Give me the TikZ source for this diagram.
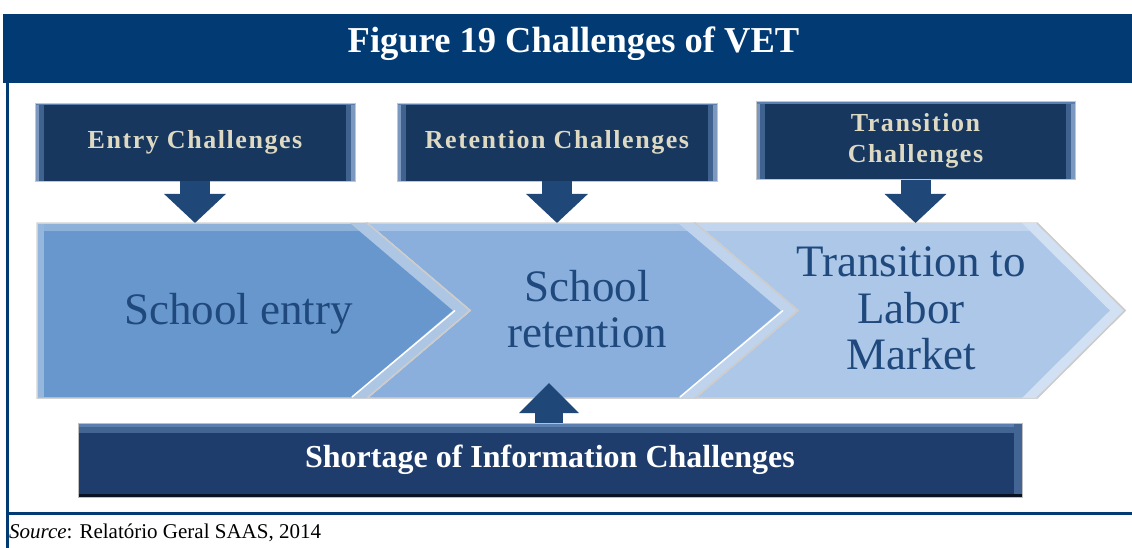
\documentclass[tikz,border=0pt]{standalone}
\usepackage{fontspec}
\setmainfont{Liberation Serif}
\usetikzlibrary{arrows.meta}
\definecolor{hdr}{HTML}{023A73}
\definecolor{boxnavy}{HTML}{17375E}
\definecolor{boxedge}{HTML}{5B7FAE}
\definecolor{arrowc}{HTML}{1F4778}
\definecolor{chA}{HTML}{6897CE}
\definecolor{chB}{HTML}{8AAFDC}
\definecolor{chC}{HTML}{ACC7E8}
\definecolor{chtext}{HTML}{1F497D}
\definecolor{boxtext}{HTML}{DDD9C3}
\definecolor{botnavy}{HTML}{1F3D6C}
\begin{document}
\begin{tikzpicture}[x=1pt,y=-1pt,
  topbox/.style={minimum width=320pt, minimum height=78pt, inner sep=0pt,
    fill=boxnavy, draw=gray!45, line width=0.8pt, text=boxtext, align=center,
    font=\bfseries\fontsize{26}{31}\selectfont\addfontfeature{LetterSpace=6},
    path picture={
      \fill[boxedge!60!boxnavy]
        (path picture bounding box.north west) rectangle ([xshift=9pt]path picture bounding box.south west);
      \fill[boxedge!80!white]
        (path picture bounding box.north west) rectangle ([xshift=4pt]path picture bounding box.south west);
      \fill[boxedge!60!boxnavy]
        ([xshift=-9pt]path picture bounding box.north east) rectangle (path picture bounding box.south east);
      \fill[boxedge!80!white]
        ([xshift=-4pt]path picture bounding box.north east) rectangle (path picture bounding box.south east);
      \fill[boxedge] (path picture bounding box.north west) rectangle ([yshift=-2.5pt]path picture bounding box.north east);
    }},
  botbox/.style={minimum width=944pt, minimum height=74pt, inner sep=0pt,
    fill=botnavy, draw=gray!50, line width=0.8pt, text=white,
    font=\bfseries\fontsize{32}{38}\selectfont,
    path picture={
      \fill[boxedge!60!botnavy]
        (path picture bounding box.north west) rectangle ([yshift=-10pt]path picture bounding box.north east);
      \fill[boxedge]
        (path picture bounding box.north west) rectangle ([yshift=-4pt]path picture bounding box.north east);
      \fill[boxedge!60!botnavy]
        ([xshift=-8pt]path picture bounding box.north east) rectangle (path picture bounding box.south east);
      \fill[black!70!botnavy] (path picture bounding box.south west) rectangle ([yshift=3pt]path picture bounding box.south east);
    }},
  chevtext/.style={text=chtext, align=center, inner sep=0pt,
    font=\fontsize{45}{46.5}\selectfont},
  chevron/.style={draw=gray!35, line width=1.5pt, line join=miter},
  downarrow/.style={arrowc, line width=30pt,
    -{Triangle[length=29pt,width=60pt]}},
  uparrow/.style={arrowc, line width=28pt,
    -{Triangle[length=30pt,width=58pt]}}
]
\useasboundingbox (0,0) rectangle (1132,548);

% header
\fill[hdr] (3,14) rectangle (1132,83);
\node[font=\bfseries\fontsize{36.5}{40}\selectfont, text=white, anchor=base, inner sep=0pt]
  (title) at (573.5,53) {Figure 19 Challenges of VET};

% frame
\draw[hdr, line width=3pt] (7.5,83) -- (7.5,548);
\draw[hdr, line width=3pt] (6,513.5) -- (1132,513.5);

% named coordinates on the band
\coordinate (bandtop) at (0,223);
\coordinate (uptip) at (0,383);

% chevrons
\filldraw[chevron, fill=chC] (695,223) -- (1037,223) -- (1125,310.5) -- (1037,398) -- (695,398) -- (798,310.5) -- cycle;
\filldraw[chevron, fill=chB] (367,223) -- (695,223) -- (798,310.5) -- (695,398) -- (367,398) -- (470,310.5) -- cycle;
\filldraw[chevron, fill=chA] (37,223) -- (367,223) -- (470,310.5) -- (367,398) -- (37,398) -- cycle;
% top highlights
\fill[chA!75!white] (38,224) rectangle (367,231);
\fill[chB!75!white] (368,224) rectangle (695,231);
\fill[chC!75!white] (696,224) rectangle (1037,231);
% left edge bevel
\fill[chA!70!white] (38,224) rectangle (44,397);
% bevels on right edges
\fill[chA!55!white] (367,223) -- (470,310.5) -- (367,398) -- (350,398) -- (453,310.5) -- (350,223) -- cycle;
\fill[chB!55!white] (695,223) -- (798,310.5) -- (695,398) -- (678,398) -- (781,310.5) -- (678,223) -- cycle;
\fill[chC!55!white] (1037,223) -- (1125,310.5) -- (1037,398) -- (1022,398) -- (1110,310.5) -- (1022,223) -- cycle;
\draw[white, line width=1.5pt] (455,310.5) -- (352,397);
\draw[white, line width=1.5pt] (783,310.5) -- (680,397);
\draw[gray!40, line width=1.5pt, line join=miter] (367,223) -- (470,310.5) -- (367,398);
\draw[gray!40, line width=1.5pt, line join=miter] (695,223) -- (798,310.5) -- (695,398);
\draw[gray!40, line width=1.5pt, line join=miter] (1037,223) -- (1125,310.5) -- (1037,398);

% chevron texts
\node[chevtext, anchor=base] (n1) at (238.5,324) {School entry};
\node[chevtext] (n2) at (587,309) {School\\retention};
\node[chevtext] (n3) at (911,308.5) {Transition to\\Labor\\Market};

% top boxes
\node[topbox] (entry) at (195,142) {Entry Challenges};
\node[topbox] (reten) at (557,142) {Retention Challenges};
\node[topbox, minimum width=319pt] (trans) at (915.5,140.5) {Transition\\Challenges};

% down arrows
\draw[downarrow] (entry.south) -- (entry.south |- bandtop);
\draw[downarrow] (reten.south) -- (reten.south |- bandtop);
\draw[downarrow] (trans.south) -- (trans.south |- bandtop);

% bottom box
\node[botbox] (short) at (550,460) {Shortage of Information Challenges};
\draw[uparrow] ([xshift=-1pt]short.north) -- ([xshift=-1pt]short.north |- uptip);

% source
\node[anchor=base west, inner sep=0pt, font=\fontsize{21}{24}\selectfont]
  (src) at (9,538) {{\itshape Source}: Relatório Geral SAAS, 2014};
\end{tikzpicture}
\end{document}
